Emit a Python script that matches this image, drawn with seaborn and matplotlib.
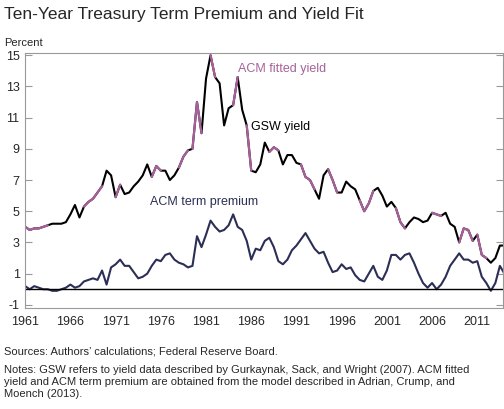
import numpy as np
import pandas as pd
import matplotlib
matplotlib.use("Agg")
import matplotlib.pyplot as plt
import seaborn as sns

gsw_yield = [4.0,3.8,3.9,3.9,4.0,4.1,4.2,4.2,4.2,4.3,4.8,5.4,4.6,5.3,5.6,5.8,6.2,6.6,7.6,7.3,
 5.9,6.7,6.1,6.2,6.6,6.9,7.3,8.0,7.2,7.9,7.6,7.6,7.0,7.3,7.8,8.5,8.9,9.0,12.0,10.0,
 13.5,15.0,13.6,13.2,10.5,11.6,11.8,13.6,11.5,10.5,7.6,7.5,8.0,9.4,8.8,9.1,8.9,8.0,8.6,8.6,
 8.1,8.0,7.2,7.0,6.4,5.8,7.3,7.7,7.0,6.2,6.2,6.9,6.6,6.4,5.7,5.0,5.5,6.3,6.5,6.0,
 5.3,5.6,5.2,4.3,3.9,4.3,4.6,4.5,4.3,4.4,4.9,4.8,4.7,4.9,4.2,4.0,3.0,3.9,3.8,3.1,
 3.5,2.2,2.0,1.7,2.0,2.8,2.8]
term_premium = [0.2,0.0,0.2,0.1,0.0,0.0,-0.1,-0.1,0.0,0.1,0.3,0.1,0.2,0.5,0.6,0.7,0.6,1.2,0.3,1.4,
 1.6,1.9,1.5,1.5,1.1,0.7,0.8,1.0,1.5,1.9,1.8,2.2,2.3,1.9,1.7,1.6,1.4,1.5,3.4,2.7,
 3.5,4.4,4.0,3.7,3.8,4.1,4.8,4.0,3.8,3.1,1.9,2.6,2.5,3.1,3.3,2.7,1.8,1.6,1.9,2.5,
 2.8,3.2,3.6,3.1,2.6,2.3,2.4,1.7,1.1,1.2,1.6,1.3,1.4,0.9,0.6,0.5,1.0,1.5,0.8,0.6,
 1.2,2.2,2.2,1.9,2.2,2.3,1.7,1.0,0.4,0.1,0.4,0.0,0.3,0.8,1.5,1.9,2.3,1.9,1.9,1.7,
 1.8,0.8,0.4,-0.1,0.4,1.5,1.0]
years = np.arange(1961.0, 1961.0 + 0.5 * len(gsw_yield), 0.5)
acm_fit_periods = [(1961,1963.5),(1967.5,1969.5),(1971,1971.5),(1975,1976),(1978,1979),
 (1979.5,1980.5),(1981.5,1982),(1984,1984.5),(1985.5,1986),(1988,1989),(1991.5,1993),
 (1994.5,1995.5),(1998,1999.5),(2002,2003),(2006,2007),(2009,2010.5),(2011,2012)]
xticks = list(range(1961, 2014, 5))

sns.set_style("white")
plt.rcParams['font.family'] = ['Liberation Sans', 'DejaVu Sans']
plt.rcParams['axes.unicode_minus'] = False

df = pd.DataFrame({"year": years, "gsw": gsw_yield, "tp": term_premium})

fig = plt.figure(figsize=(5.04, 4.09), dpi=100)
ax = fig.add_axes([0.05, 0.247, 0.949, 0.623])
sns.lineplot(data=df, x="year", y="gsw", ax=ax, color="black", lw=1.5)
for a, b in acm_fit_periods:
    seg = df[(df["year"] >= a) & (df["year"] <= b)]
    sns.lineplot(data=seg, x="year", y="gsw", ax=ax, color="#a8609a", lw=1.6)
sns.lineplot(data=df, x="year", y="tp", ax=ax, color="#2c2f55", lw=1.5)
ax.axhline(0, color="black", lw=1)
ax.set_xlim(1961, 2013.9)
ax.set_ylim(-1.2, 15.13)
ax.set_yticks([-1, 1, 3, 5, 7, 9, 11, 13, 15])
ax.set_xticks(xticks)
ax.set_xticks(range(1961, 2014), minor=True)
ax.set_xlabel(""); ax.set_ylabel("")
for s in ax.spines.values():
    s.set_color("#999999"); s.set_linewidth(0.8)
ax.tick_params(axis="y", direction="in", right=True, left=True, length=5, labelsize=9, pad=4, color="#999999")
ax.tick_params(axis="x", which="major", direction="in", length=8, labelsize=9, pad=6, color="#999999")
ax.tick_params(axis="x", which="minor", direction="in", length=4, color="#999999")
ax.text(1984.5, 13.9, "ACM fitted yield", color="#a8609a", fontsize=9)
ax.text(1986.0, 10.2, "GSW yield", color="black", fontsize=9)
ax.text(1974.8, 5.4, "ACM term premium", color="#2c2f55", fontsize=9)

fig.text(0.008, 0.965, "Ten-Year Treasury Term Premium and Yield Fit", fontsize=12.5, va="center")
fig.text(0.008, 0.895, "Percent", fontsize=8, va="center")
fig.text(0.008, 0.14, "Sources: Authors\u2019 calculations; Federal Reserve Board.", fontsize=8, va="center")
fig.text(0.008, 0.065, "Notes: GSW refers to yield data described by Gurkaynak, Sack, and Wright (2007). ACM fitted\n"
         "yield and ACM term premium are obtained from the model described in Adrian, Crump, and\nMoench (2013).",
         fontsize=8, va="center", linespacing=1.25)
fig.savefig("out.png", dpi=100)
